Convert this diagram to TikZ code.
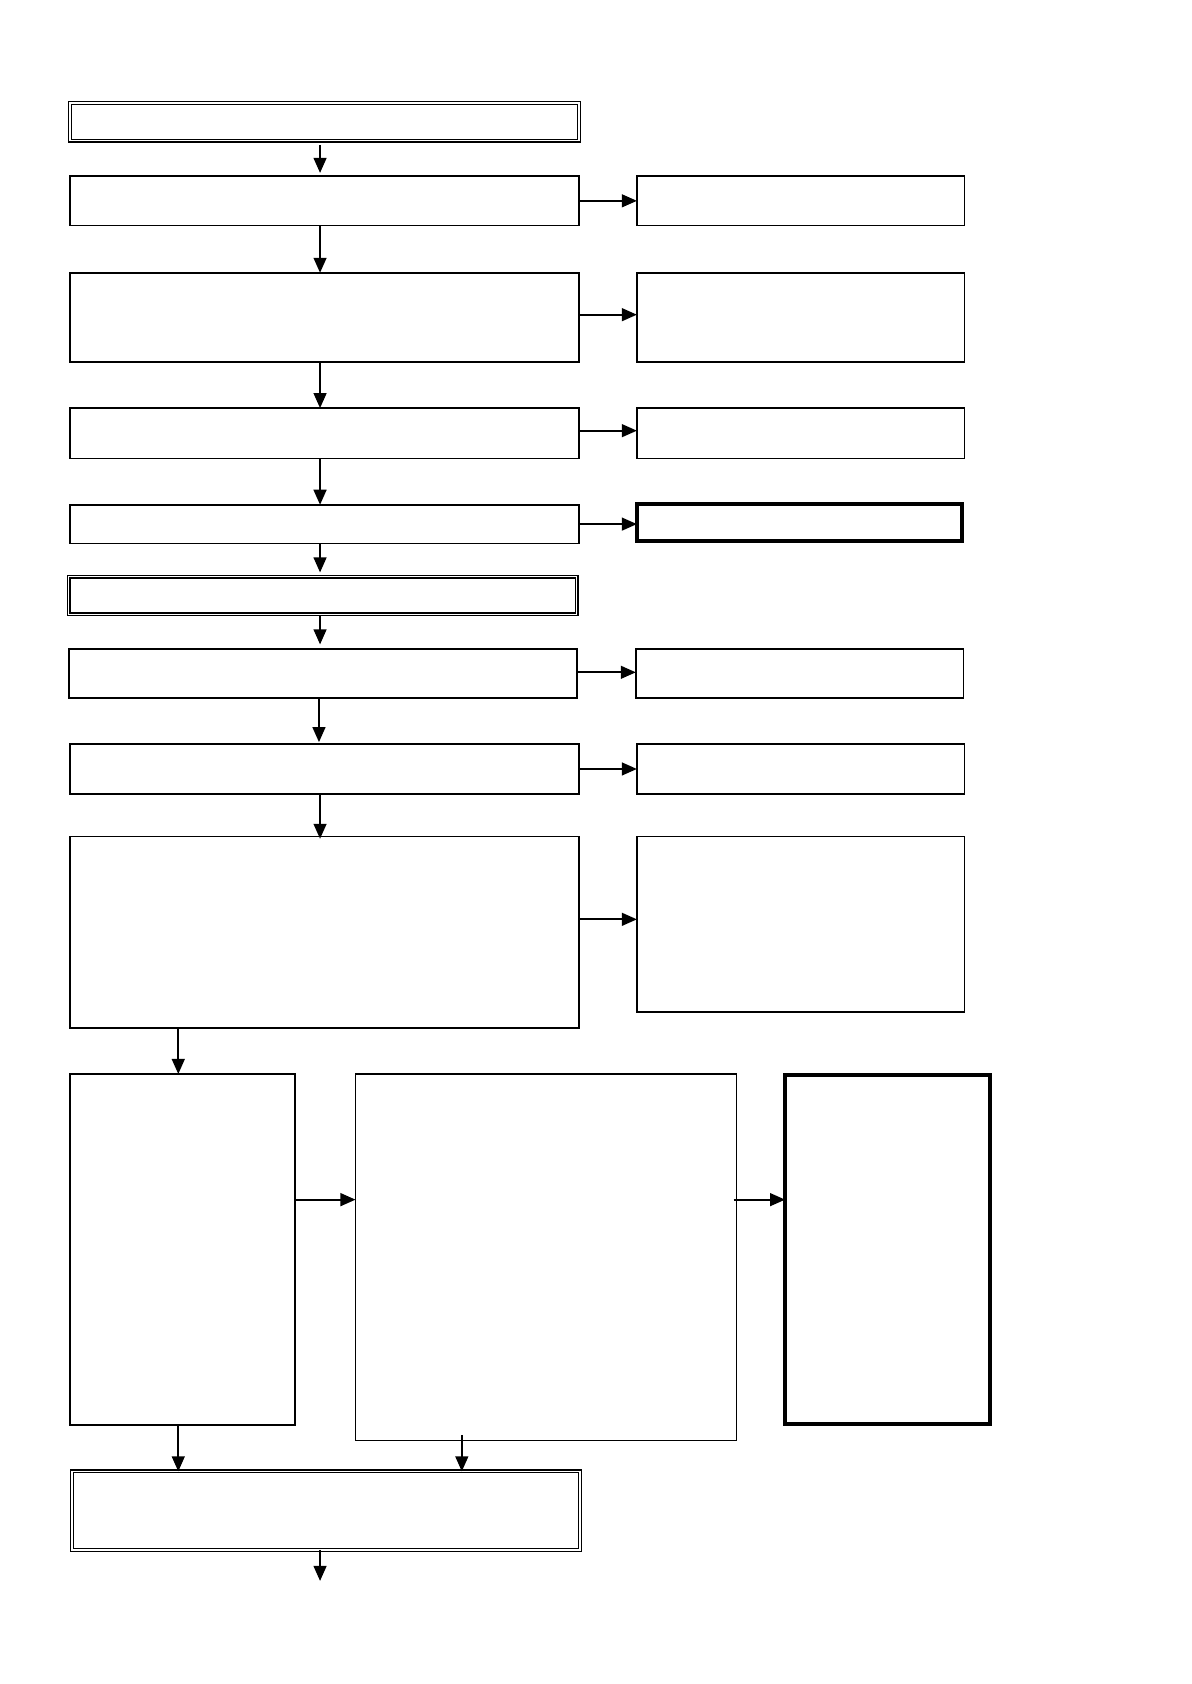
\documentclass[tikz,border=0pt]{standalone}
\usetikzlibrary{arrows.meta}
\begin{document}
\begin{tikzpicture}[x=1pt,y=-1pt,
  box/.style={draw,line width=1.6pt,inner sep=0pt,outer sep=0pt,anchor=north west},
  thinbox/.style={draw,line width=1.0pt,inner sep=0pt,outer sep=0pt,anchor=north west},
  thickbox/.style={draw,line width=3.4pt,inner sep=0pt,outer sep=0pt,anchor=north west},
  dbox/.style={draw,double,double distance=1.4pt,line width=1.2pt,inner sep=0pt,outer sep=0pt,anchor=north west},
  arr/.style={line width=1.6pt,-{Triangle[length=14pt,width=12pt]}}]
\useasboundingbox[fill=white] (0,0) rectangle (1109,1568);
% left column
\node[dbox,minimum width=474pt,minimum height=35pt] (b1) at (65,96) {};
\node[box,minimum width=474pt,minimum height=46pt] (b2) at (65,164) {};
\node[box,minimum width=474pt,minimum height=83pt] (b3) at (65,254) {};
\node[box,minimum width=474pt,minimum height=47pt] (b4) at (65,380) {};
\node[box,minimum width=474pt,minimum height=36pt] (b5) at (65,470) {};
\node[dbox,minimum width=473pt,minimum height=35pt] (b6) at (64,537) {};
\node[box,minimum width=473pt,minimum height=46pt] (b7) at (64,604) {};
\node[box,minimum width=474pt,minimum height=46pt] (b8) at (65,693) {};
\node[box,minimum width=474pt,minimum height=178pt] (b9) at (65,779) {};
% right column
\node[box,minimum width=305pt,minimum height=46pt] (r2) at (593,164) {};
\node[box,minimum width=305pt,minimum height=83pt] (r3) at (593,254) {};
\node[box,minimum width=305pt,minimum height=47pt] (r4) at (593,380) {};
\node[thickbox,minimum width=303pt,minimum height=35pt] (r5) at (593,469) {};
\node[box,minimum width=305pt,minimum height=46pt] (r7) at (592,604) {};
\node[box,minimum width=305pt,minimum height=46pt] (r8) at (593,693) {};
\node[box,minimum width=305pt,minimum height=163pt] (r9) at (593,779) {};
% bottom row
\node[box,minimum width=210pt,minimum height=327pt] (c1) at (65,1000) {};
\node[thinbox,minimum width=355pt,minimum height=341pt] (c2) at (331,1000) {};
\node[thickbox,minimum width=191pt,minimum height=325pt] (c3) at (731,1001) {};
\node[dbox,minimum width=473pt,minimum height=73pt] (b11) at (67,1370) {};
\coordinate (end) at (298,1472);
% vertical arrows
\draw[arr] ([yshift=-4pt]b1.south -| 298,0) -- ([yshift=3pt]b2.north -| 298,0);
\draw[arr] (b2.south -| 298,0) -- (b3.north -| 298,0);
\draw[arr] (b3.south -| 298,0) -- (b4.north -| 298,0);
\draw[arr] (b4.south -| 298,0) -- (b5.north -| 298,0);
\draw[arr] (b5.south -| 298,0) -- ([yshift=4pt]b6.north -| 298,0);
\draw[arr] ([yshift=-1pt]b6.south -| 298,0) -- ([yshift=4pt]b7.north -| 298,0);
\draw[arr] (b7.south -| 297,0) -- ([yshift=2pt]b8.north -| 297,0);
\draw[arr] (b8.south -| 298,0) -- ([yshift=-2pt]b9.north -| 298,0);
\draw[arr] (b9.south -| 166,0) -- (c1.north -| 166,0);
\draw[arr] (c1.south -| 166,0) -- (b11.north -| 166,0);
\draw[arr] ([yshift=5pt]c2.south -| 430,0) -- (b11.north -| 430,0);
\draw[arr] (b11.south -| end) -- (end);
% horizontal arrows
\draw[arr] (b2.east |- 0,187) -- (r2.west |- 0,187);
\draw[arr] (b3.east |- 0,293) -- (r3.west |- 0,293);
\draw[arr] (b4.east |- 0,401) -- (r4.west |- 0,401);
\draw[arr] (b5.east |- 0,488) -- (r5.west |- 0,488);
\draw[arr] (b7.east |- 0,626) -- (r7.west |- 0,626);
\draw[arr] (b8.east |- 0,716) -- (r8.west |- 0,716);
\draw[arr] (b9.east |- 0,856) -- (r9.west |- 0,856);
\draw[arr] (c1.east |- 0,1117) -- (c2.west |- 0,1117);
\draw[arr] ([xshift=-3pt]c2.east |- 0,1117) -- (c3.west |- 0,1117);
\end{tikzpicture}
\end{document}
